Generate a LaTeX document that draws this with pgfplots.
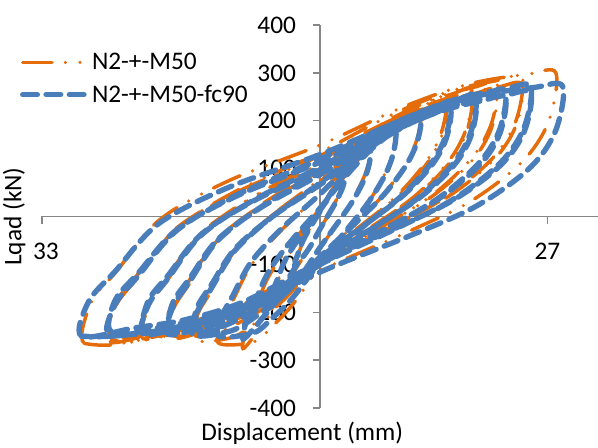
\documentclass[border=0pt]{standalone}
\usepackage{fontspec}
\setmainfont{Carlito}
\usepackage{pgfplots}
\pgfplotsset{compat=1.18}
\definecolor{exorange}{HTML}{E46C0A}
\definecolor{exblue}{HTML}{4A7EBB}
\definecolor{axgray}{HTML}{868686}
\begin{document}
\begin{tikzpicture}[font=\fontsize{19}{22}\selectfont]
\begin{axis}[name=ax,
 scale only axis, width=417pt, height=287.25pt,
 xmin=-33, xmax=33, ymin=-400, ymax=400,
 axis lines=middle,
 axis line style={-, draw=axgray, line width=1pt},
 xtick={-33,27}, ytick={-400,-300,-200,-100,0,100,200,300,400},
 tick align=outside, major tick length=5.5pt,
 tick style={draw=axgray, line width=1pt},
 /pgf/number format/assume math mode=true,
 tick label style={font=\fontsize{19}{22}\selectfont, inner sep=1pt},
 xticklabel style={yshift=-13.5pt},
 yticklabel style={xshift=-11.3pt},
 xlabel={Displacement (mm)}, ylabel={Lqad (kN)},
 every axis x label/.style={at={(rel axis cs:0.468,0)}, anchor=base, yshift=-24.3pt, inner sep=0pt},
 every axis y label/.style={at={(rel axis cs:-0.05,0.5)}, rotate=90, anchor=center, fill=white, inner sep=5pt},
 legend style={at={(rel axis cs:-0.04,0.934)}, anchor=north west, draw=none, fill=none, inner sep=0pt, row sep=6pt, nodes={inner sep=2pt}, /tikz/every even column/.append style={column sep=17pt}},
 legend cell align=left,
 legend image code/.code={\draw[#1] (0pt,0pt) -- (48pt,0pt);},
 clip=false,
]
\addplot[draw=exorange, line width=2.6pt, line cap=round, dash pattern=on 22pt off 10pt on 0pt off 11pt on 0pt off 10pt, smooth, tension=0.55] coordinates {
(-3,-110) (-2.91,-96.7) (-2.58,-80.1) (-2.04,-53.4) (-1.17,-23.7) (0,11.4) (1.08,45.4) (1.92,69.6) (2.64,87.2) (3,95) (2.91,78.4) (2.58,59.3) (1.92,33.5) (1.08,6.4) (0,-27.2) (-1.08,-62.9) (-1.92,-85.8) (-2.64,-102.6)
(-6,-200) (-5.82,-172.9) (-5.16,-142.3) (-4.08,-93.3) (-2.34,-42.5) (0,15.3) (2.16,72.1) (3.84,111.5) (5.28,138.6) (6,150) (5.82,115.9) (5.16,80) (3.84,34.5) (2.16,-11) (0,-67) (-2.16,-127.4) (-3.84,-164.1) (-5.28,-189.5)
(-9,-275) (-8.73,-236.1) (-7.74,-193.9) (-6.12,-126.4) (-3.51,-59) (0,16.3) (3.24,91.1) (5.76,142.1) (7.92,176.2) (9,190) (8.73,140.8) (7.74,91) (5.76,29.6) (3.24,-30.4) (0,-103.9) (-3.24,-183.7) (-5.76,-230.9) (-7.92,-262.4)
(-12,-265) (-11.64,-220.9) (-10.32,-174.8) (-8.16,-101.3) (-4.68,-30.3) (0,47.6) (4.32,125.5) (7.68,178) (10.56,211.8) (12,225) (11.64,169.1) (10.32,114.3) (7.68,48.6) (4.32,-14.1) (0,-90.6) (-4.32,-174.4) (-7.68,-222.4) (-10.56,-253.2)
(-15,-258) (-14.55,-205.9) (-12.9,-154.9) (-10.2,-73.6) (-5.85,0.1) (0,77.8) (5.4,156.8) (9.6,208.3) (13.2,239.1) (15,250) (14.55,183.7) (12.9,122) (9.6,51.9) (5.4,-12.1) (0,-89.3) (-5.4,-175.5) (-9.6,-221.7) (-13.2,-248.9)
(-15,-245.1) (-14.55,-195.6) (-12.9,-147.2) (-10.2,-69.9) (-5.85,0.1) (0,73.9) (5.4,149) (9.6,197.9) (13.2,227.1) (15,237.5) (14.55,174.5) (12.9,115.9) (9.6,49.3) (5.4,-11.5) (0,-84.8) (-5.4,-166.7) (-9.6,-210.6) (-13.2,-236.5)
(-18,-255) (-17.46,-195.2) (-15.48,-139.6) (-12.24,-51.2) (-7.02,24.2) (0,100.7) (6.48,179.7) (11.52,229.6) (15.84,256.7) (18,265) (17.46,188.6) (15.48,120.4) (11.52,46.6) (6.48,-17.9) (0,-94.8) (-6.48,-182.2) (-11.52,-225.9) (-15.84,-248.8)
(-18,-242) (-17.46,-185.4) (-15.48,-132.6) (-12.24,-48.6) (-7.02,23) (0,95.7) (6.48,170.7) (11.52,218.1) (15.84,243.9) (18,251.8) (17.46,179.2) (15.48,114.4) (11.52,44.3) (6.48,-17) (0,-90.1) (-6.48,-173.1) (-11.52,-214.6) (-15.84,-236.4)
(-21,-255) (-20.37,-190.4) (-18.06,-131.6) (-14.28,-38.3) (-8.19,39) (0,115.7) (7.56,195.8) (13.44,245.5) (18.48,270.9) (21,278) (20.37,195.3) (18.06,122.9) (13.44,46.1) (7.56,-19.4) (0,-97.2) (-7.56,-186.4) (-13.44,-229.3) (-18.48,-250.2)
(-21,-242.3) (-20.37,-180.9) (-18.06,-125) (-14.28,-36.4) (-8.19,37.1) (0,109.9) (7.56,186) (13.44,233.2) (18.48,257.4) (21,264.1) (20.37,185.5) (18.06,116.8) (13.44,43.8) (7.56,-18.4) (0,-92.3) (-7.56,-177.1) (-13.44,-217.8) (-18.48,-237.7)
(-25,-262) (-24.27,-188.1) (-21.57,-125.9) (-17.16,-27.3) (-10.06,52.2) (-0.5,129.4) (8.32,210.8) (15.18,260.4) (21.06,284.2) (24,290) (23.27,200.4) (20.57,123.4) (15.18,43.4) (8.32,-23.5) (-0.5,-102.4) (-9.32,-193.6) (-16.18,-235.8) (-22.06,-262)
(-25,-248.9) (-24.27,-178.7) (-21.57,-119.6) (-17.16,-25.9) (-10.06,49.6) (-0.5,122.9) (8.32,200.3) (15.18,247.4) (21.06,270) (24,275.5) (23.27,190.4) (20.57,117.2) (15.18,41.2) (8.32,-22.3) (-0.5,-97.3) (-9.32,-183.9) (-16.18,-224) (-22.06,-248.9)
(-28,-265) (-27.16,-179.9) (-24.08,-112.9) (-19.04,-6.9) (-10.92,74) (0,149.3) (10.08,230.3) (17.92,277.7) (24.64,297.2) (28,300) (27.16,199.6) (24.08,115.9) (17.92,32.2) (10.08,-34.8) (0,-112.9) (-10.08,-205) (-17.92,-244.1) (-24.64,-268) (-28,-265)
};
\addlegendentry{N2-+-M50}
\addplot[draw=exblue, line width=4pt, line cap=round, dash pattern=on 11pt off 6.5pt, smooth, tension=0.55] coordinates {
(-3,-105) (-2.91,-92.3) (-2.58,-76.5) (-2.04,-51.2) (-1.17,-22.9) (0,10.4) (1.08,42.8) (1.92,65.8) (2.64,82.6) (3,90) (2.91,74.2) (2.58,56.1) (1.92,31.5) (1.08,5.8) (0,-26.2) (-1.08,-60.2) (-1.92,-82) (-2.64,-98)
(-6,-190) (-5.82,-164.4) (-5.16,-135.6) (-4.08,-89.4) (-2.34,-41.5) (0,13) (2.16,66.6) (3.84,103.7) (5.28,129.3) (6,140) (5.82,107.8) (5.16,74) (3.84,31.1) (2.16,-11.8) (0,-64.6) (-2.16,-121.5) (-3.84,-156.2) (-5.28,-180.1)
(-9,-255) (-8.73,-218.6) (-7.74,-179.1) (-6.12,-116) (-3.51,-52.9) (0,17.5) (3.24,87.5) (5.76,135.2) (7.92,167.1) (9,180) (8.73,134) (7.74,87.3) (5.76,29.9) (3.24,-26.2) (0,-94.9) (-3.24,-169.6) (-5.76,-213.8) (-7.92,-243.3)
(-12,-250) (-11.64,-208.2) (-10.32,-164.4) (-8.16,-94.7) (-4.68,-27.3) (0,46.7) (4.32,120.6) (7.68,170.4) (10.56,202.4) (12,215) (11.64,162) (10.32,109.9) (7.68,47.6) (4.32,-11.9) (0,-84.5) (-4.32,-164) (-7.68,-209.5) (-10.56,-238.8)
(-15,-248) (-14.54,-198.2) (-12.87,-149.3) (-10.12,-71.6) (-5.7,-1.1) (0.25,73.2) (5.74,148.8) (10.01,198.1) (13.67,227.6) (15.5,238) (15.04,174.6) (13.37,115.5) (10.01,48.5) (5.74,-12.8) (0.25,-86.6) (-5.24,-169) (-9.51,-213.3) (-13.17,-239.3)
(-15,-235.6) (-14.54,-188.3) (-12.87,-141.8) (-10.12,-68) (-5.7,-1) (0.25,69.5) (5.74,141.4) (10.01,188.2) (13.67,216.2) (15.5,226.1) (15.04,165.9) (13.37,109.7) (10.01,46.1) (5.74,-12.2) (0.25,-82.3) (-5.24,-160.6) (-9.51,-202.6) (-13.17,-227.3)
(-18,-246) (-17.45,-188.7) (-15.45,-135.4) (-12.16,-50.8) (-6.87,21.4) (0.25,94.6) (6.82,170.3) (11.93,218.1) (16.31,244) (18.5,252) (17.95,178.8) (15.95,113.6) (11.93,42.8) (6.82,-18.9) (0.25,-92.6) (-6.32,-176.3) (-11.43,-218.1) (-15.81,-240)
(-18,-233.7) (-17.45,-179.3) (-15.45,-128.6) (-12.16,-48.3) (-6.87,20.3) (0.25,89.9) (6.82,161.8) (11.93,207.2) (16.31,231.8) (18.5,239.4) (17.95,169.9) (15.95,107.9) (11.93,40.7) (6.82,-18) (0.25,-88) (-6.32,-167.5) (-11.43,-207.2) (-15.81,-228)
(-21,-246) (-20.36,-184.4) (-17.99,-128.4) (-14.12,-39.5) (-7.89,34.2) (0.5,107.3) (8.24,183.6) (14.26,231) (19.42,255.3) (22,262) (21.36,183.1) (18.99,114.2) (14.26,41) (8.24,-21.5) (0.5,-95.6) (-7.24,-180.6) (-13.26,-221.5) (-18.42,-241.4)
(-21,-233.7) (-20.36,-175.2) (-17.99,-122) (-14.12,-37.5) (-7.89,32.5) (0.5,101.9) (8.24,174.4) (14.26,219.5) (19.42,242.5) (22,248.9) (21.36,173.9) (18.99,108.5) (14.26,39) (8.24,-20.4) (0.5,-90.8) (-7.24,-171.6) (-13.26,-210.4) (-18.42,-229.3)
(-25,-248) (-24.25,-181.7) (-21.5,-122.7) (-17,-29.1) (-9.75,46.3) (0,119.6) (9,196.9) (16,243.9) (22,266.5) (25,272) (24.25,187) (21.5,113.9) (16,38) (9,-25.4) (0,-100.3) (-9,-186.9) (-16,-226.9) (-22,-244.9)
(-25,-235.6) (-24.25,-172.6) (-21.5,-116.6) (-17,-27.6) (-9.75,44) (0,113.6) (9,187.1) (16,231.7) (22,253.2) (25,258.4) (24.25,177.7) (21.5,108.2) (16,36.1) (9,-24.1) (0,-95.3) (-9,-177.6) (-16,-215.6) (-22,-232.7)
(-28.3,-250) (-27.44,-176.9) (-24.3,-114.3) (-19.16,-15.1) (-10.88,60.6) (0.25,131.1) (10.53,206.8) (18.52,251.1) (25.37,269.4) (28.8,272) (27.94,178) (24.8,99.7) (18.52,21.4) (10.53,-41.2) (0.25,-114.3) (-10.03,-200.4) (-18.02,-237) (-24.87,-250) (-28.3,-250)
};
\addlegendentry{N2-+-M50-fc90}
\end{axis}
\pgfresetboundingbox
\useasboundingbox ([xshift=-31.5pt,yshift=-30pt]ax.south west) rectangle ([yshift=18.75pt]ax.north east);
\end{tikzpicture}
\end{document}
